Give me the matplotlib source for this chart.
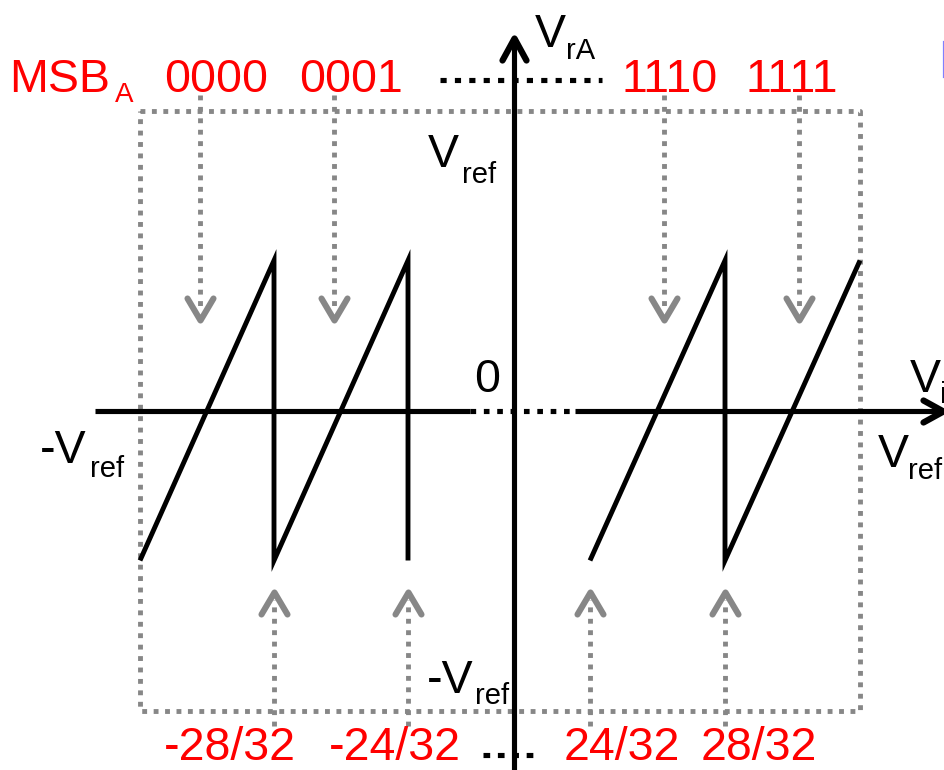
import numpy as np
import matplotlib
matplotlib.use("Agg")
import matplotlib.pyplot as plt
from matplotlib.path import Path
from matplotlib.markers import MarkerStyle
from matplotlib.lines import Line2D

plt.rcParams['font.family'] = ['Liberation Sans', 'DejaVu Sans']

# ---------------------------------------------------------------------------
# Residue transfer curve of the first (MSB) stage.
# Input in units of Vref/32, output in units of Vref.
# ---------------------------------------------------------------------------
vin_low = [-32, -28, -28, -24, -24]
res_low = [-0.5, 0.5, -0.5, 0.5, -0.5]
vin_high = [24, 28, 28, 32]
res_high = [-0.5, 0.5, -0.5, 0.5]

msb_codes = ['0000', '0001', '1110', '1111']
msb_pointer_v = [-30.2, -26.2, 26.2, 30.2]
threshold_v = [-28, -24, 24, 28]
threshold_labels = ['-28/32', '-24/32', '24/32', '28/32']

# ---------------------------------------------------------------------------
# Figure / layout
# ---------------------------------------------------------------------------
W, H = 945, 770
fig = plt.figure(figsize=(W / 100, H / 100), dpi=100)
ax = fig.add_axes([0, 0, 1, 1])
ax.axis('off')

# Broken horizontal scale: the outer code intervals are drawn wide,
# the middle of the input range is compressed.
knot_v = np.array([-200, -32, -24, 0, 24, 32, 200], dtype=float)
knot_px = np.array([140 - 168 * 33.5, 140, 408, 514, 590, 860,
                    860 + 168 * 33.75])


def fwd(v):
    return np.interp(v, knot_v, knot_px)


def inv(p):
    return np.interp(p, knot_px, knot_v)


ax.set_xscale('function', functions=(fwd, inv))
ax.set_xlim(inv(0.0), inv(W))
y_zero_px, px_per_vref = 410.5, 300.0
ax.set_ylim(-(H - y_zero_px) / px_per_vref, y_zero_px / px_per_vref)

GREY = '#878787'
RED = '#ff0000'
LW_AXIS = 3.7
LW_CURVE = 3.5
LW_DOT = 3.5
DOT = (0, (1, 1.35))


def chevron(direction, half_w, length):
    """Open arrow head marker whose tip sits on the data point."""
    if direction == 'down':
        verts = [(-half_w, length), (0, 0), (half_w, length)]
    elif direction == 'up':
        verts = [(-half_w, -length), (0, 0), (half_w, -length)]
    else:  # right
        verts = [(-length, half_w), (0, 0), (-length, -half_w)]
    path = Path(verts, [Path.MOVETO, Path.LINETO, Path.LINETO])
    size = 2 * max(half_w, length) * 0.72
    return MarkerStyle(path, fillstyle='none', capstyle='round',
                       joinstyle='round'), size


# dotted full-scale box (-Vref .. Vref on both axes)
ax.plot([-32, 32, 32, -32, -32], [1, 1, -1, -1, 1], color=GREY,
        lw=LW_DOT, linestyle=DOT, dash_capstyle='butt')

# pointers from MSB codes down to their segment
m_down, s_down = chevron('down', 13, 22)
for v in msb_pointer_v:
    ax.plot([v, v], [1.052, 0.33], color=GREY, lw=LW_DOT,
            linestyle=DOT, dash_capstyle='butt')
    ax.plot([v], [0.302], marker=m_down, markersize=s_down,
            markeredgecolor=GREY, markerfacecolor='none',
            markeredgewidth=4.4, linestyle='none')

# pointers from the comparator thresholds up to the transitions
m_up, s_up = chevron('up', 13, 22)
for v in threshold_v:
    ax.plot([v, v], [-1.052, -0.63], color=GREY, lw=LW_DOT,
            linestyle=DOT, dash_capstyle='butt')
    ax.plot([v], [-0.605], marker=m_up, markersize=s_up,
            markeredgecolor=GREY, markerfacecolor='none',
            markeredgewidth=4.4, linestyle='none')

# axes of the transfer plot
ax.plot([-33.34, -9.96], [0, 0], color='k', lw=LW_AXIS,
        solid_capstyle='butt')
ax.plot([-9.96, 19.26], [0, 0], color='k', lw=LW_AXIS,
        linestyle=(0, (1.1, 1.5)), dash_capstyle='butt')
ax.plot([19.26, 34.4], [0, 0], color='k', lw=LW_AXIS,
        solid_capstyle='butt')
m_r, s_r = chevron('right', 11, 20)
ax.plot([34.46], [0], marker=m_r, markersize=s_r, markeredgecolor='k',
        markerfacecolor='none', markeredgewidth=4.5, linestyle='none')

ax.plot([0, 0], [-1.3, 1.235], color='k', lw=LW_AXIS,
        solid_capstyle='butt')
m_u, s_u = chevron('up', 12, 22)
ax.plot([0], [1.2417], marker=m_u, markersize=s_u, markeredgecolor='k',
        markerfacecolor='none', markeredgewidth=4.5, linestyle='none')

# "...." continuation marks
ax.plot([-16.75, 24.36], [1.1017, 1.1017], color='k', lw=LW_AXIS,
        linestyle=(0, (1.2, 1.6)), dash_capstyle='butt')
ax.plot([-7.0, 8.2], [-1.148, -1.148], color='k', lw=LW_AXIS,
        linestyle=(0, (1.3, 1.5)), dash_capstyle='butt')

# residue curve
for xs, ys in ((vin_low, res_low), (vin_high, res_high)):
    ax.plot(xs, ys, color='k', lw=LW_CURVE, solid_joinstyle='miter',
            solid_capstyle='butt')


# ---------------------------------------------------------------------------
# Labels (placed in pixel units from the top-left corner)
# ---------------------------------------------------------------------------
BIG, SUB = 33.5, 21


def label(x, y, s, size=BIG, color='k', ha='left'):
    fig.text(x / W, 1 - y / H, s, fontsize=size, color=color, ha=ha,
             va='baseline')


label(9, 92, 'MSB', color=RED)
label(115, 102, 'A', size=20, color=RED)
for cx, code in zip([216, 351, 670, 792], msb_codes):
    label(cx, 92, code, color=RED, ha='center')

for cx, txt in zip([230, 395, 621.5, 758.5], threshold_labels):
    label(cx, 760, txt, color=RED, ha='center')

label(535, 47, 'V')
label(566, 59, 'rA', size=SUB)
label(428, 167, 'V')
label(462, 183, 'ref', size=SUB)
label(487.5, 392, '0', ha='center')
label(910, 392, 'V')
label(940, 403, 'i', size=SUB)
label(878, 467, 'V')
label(908, 479, 'ref', size=SUB)
label(40, 463, '-V')
label(90, 477, 'ref', size=SUB)
label(427, 693, '-V')
label(475, 704, 'ref', size=SUB)

# fragment of a neighbouring item at the right edge
fig.add_artist(Line2D([944 / W, 944 / W], [1 - 42 / H, 1 - 77 / H],
                      transform=fig.transFigure, color='#8080ff', lw=1.6))

fig.savefig('out.png', dpi=100)
